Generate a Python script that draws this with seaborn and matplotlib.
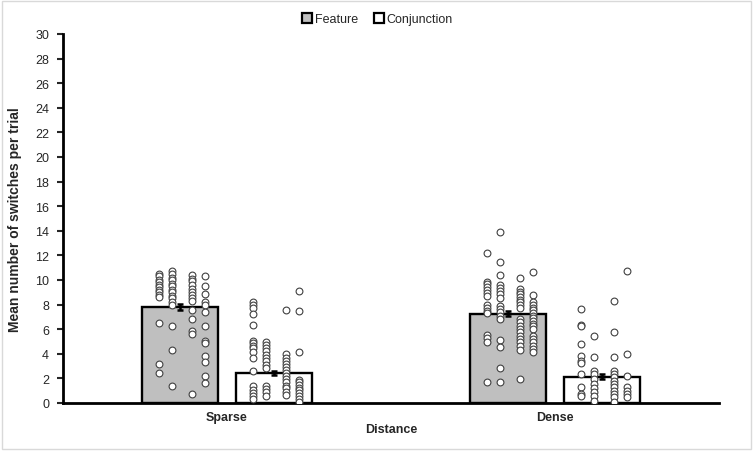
import numpy as np
import pandas as pd
import matplotlib
matplotlib.use("Agg")
import matplotlib.pyplot as plt
import seaborn as sns
from matplotlib.patches import Rectangle
from matplotlib.lines import Line2D

#%% data
distances = ["Sparse", "Dense"]
conditions = ["Feature", "Conjunction"]

# bar means and standard errors
bar_means = {"Sparse": [7.83, 2.44], "Dense": [7.24, 2.15]}
bar_se = {"Sparse": [0.25, 0.2], "Dense": [0.2, 0.2]}

# individual observations, four columns per bar
sparse_feature = [
    [10.5, 10.3, 10.0, 9.8, 9.6, 9.4, 9.2, 9.0, 8.8, 8.6, 6.5, 3.2, 2.4],
    [10.7, 10.5, 10.2, 10.0, 9.7, 9.5, 9.2, 9.0, 8.7, 8.5, 8.2, 8.0, 6.3, 4.3, 1.35],
    [10.4, 10.1, 9.9, 9.6, 9.3, 9.0, 8.8, 8.5, 8.3, 7.6, 6.8, 5.85, 5.6, 0.7],
    [10.35, 9.55, 8.85, 8.2, 7.97, 7.37, 6.3, 5.07, 4.9, 3.8, 3.3, 2.2, 1.6],
]
sparse_conjunction = [
    [8.24, 8.0, 7.72, 7.24, 6.34, 5.07, 4.85, 4.66, 4.44, 4.12, 3.66, 2.63, 1.35, 1.08, 0.81, 0.6, 0.33],
    [4.99, 4.72, 4.44, 4.2, 3.93, 3.63, 3.39, 3.09, 2.82, 1.4, 1.14, 0.87, 0.6],
    [7.59, 3.96, 3.69, 3.41, 3.2, 2.93, 2.71, 2.44, 2.22, 1.95, 1.68, 1.4, 1.19, 0.92, 0.65],
    [9.13, 7.45, 4.12, 1.9, 1.68, 1.46, 1.25, 1.03, 0.81, 0.6, 0.33, 0.05],
]
dense_feature = [
    [12.2, 9.86, 9.65, 9.41, 9.19, 8.94, 8.72, 7.97, 7.75, 7.5, 7.29, 5.53, 5.26, 4.98, 1.71],
    [13.88, 11.49, 10.43, 9.59, 9.35, 9.08, 8.84, 8.56, 7.86, 7.64, 7.37, 7.1, 6.83, 5.15, 4.55, 2.87, 1.71],
    [10.19, 9.27, 9.05, 8.84, 8.62, 8.4, 8.19, 7.97, 7.75, 6.83, 6.56, 6.29, 6.02, 5.75, 5.47, 5.2, 4.93, 4.66, 4.28, 1.95],
    [10.65, 8.78, 8.19, 7.97, 7.75, 7.54, 7.32, 7.1, 6.89, 6.67, 6.45, 6.24, 6.02, 5.47, 5.2, 4.93, 4.66, 4.39, 4.12],
]
dense_conjunction = [
    [7.64, 6.34, 6.29, 4.82, 3.8, 3.44, 3.25, 2.36, 1.33, 0.73, 0.54],
    [5.47, 3.77, 2.63, 2.36, 1.95, 1.54, 1.22, 0.87, 0.54, 0.19],
    [8.32, 5.8, 3.71, 2.63, 2.36, 2.09, 1.81, 1.54, 1.27, 1.0, 0.73, 0.46, 0.11],
    [10.71, 3.98, 2.22, 1.27, 1.0, 0.73, 0.46],
]
points = {
    ("Sparse", "Feature"): sparse_feature,
    ("Sparse", "Conjunction"): sparse_conjunction,
    ("Dense", "Feature"): dense_feature,
    ("Dense", "Conjunction"): dense_conjunction,
}

#%% tables
bars = pd.DataFrame([(d, c, bar_means[d][j], bar_se[d][j])
                     for d in distances for j, c in enumerate(conditions)],
                    columns=["Distance", "Condition", "mean", "se"])

sns.set_style("white")
plt.rcParams["font.family"] = ["Liberation Sans", "DejaVu Sans"]

fig = plt.figure(figsize=(7.54, 4.52), dpi=100)
ax = fig.add_axes([0.0836, 0.1062, 0.87, 0.8164])

palette = {"Feature": "#bfbfbf", "Conjunction": "white"}
sns.barplot(data=bars, x="Distance", y="mean", hue="Condition", order=distances,
            hue_order=conditions, palette=palette, width=0.57, gap=0.19,
            edgecolor="black", linewidth=1.7, errorbar=None, legend=False, ax=ax,
            zorder=2)

# bar centres from the drawn patches
centres = {}
for k, p in enumerate(ax.patches[:4]):
    d = distances[k % 2]
    c = conditions[k // 2]
    centres[(d, c)] = p.get_x() + p.get_width() / 2

col_offsets = [-0.064, -0.024, 0.037, 0.076]
rows = []
for (d, c), cols in points.items():
    for ci, vals in enumerate(cols):
        for v in vals:
            rows.append((centres[(d, c)] + col_offsets[ci], v))
pts = pd.DataFrame(rows, columns=["x", "y"])
sns.scatterplot(data=pts, x="x", y="y", s=24, color="white", edgecolor="#404040",
                linewidth=0.8, ax=ax, zorder=3)

for _, r in bars.iterrows():
    ax.errorbar(centres[(r["Distance"], r["Condition"])], r["mean"], yerr=r["se"],
                fmt="none", ecolor="black", elinewidth=1.8, capsize=2.5, capthick=1.8,
                zorder=4)

ax.set_xlim(-0.5, 1.5)
ax.set_ylim(0, 30)
ax.set_yticks(range(0, 31, 2))
ax.tick_params(axis="y", direction="out", length=4, width=1.5, labelsize=9,
               left=True, pad=6)
ax.tick_params(axis="x", length=0, labelsize=9, pad=6)
for lab in ax.get_xticklabels():
    lab.set_fontweight("bold")
ax.set_xlabel("Distance", fontsize=9, fontweight="bold", labelpad=0)
ax.set_ylabel("Mean number of switches per trial", fontsize=10, fontweight="bold")
ax.yaxis.set_label_coords(-0.062, 0.5)
sns.despine(ax=ax)
for s in ["left", "bottom"]:
    ax.spines[s].set_linewidth(2)
    ax.spines[s].set_color("black")

handles = [Line2D([], [], marker="s", linestyle="", markersize=6.5,
                  markerfacecolor=palette[c], markeredgecolor="black",
                  markeredgewidth=1.6) for c in conditions]
fig.legend(handles, conditions, loc="upper center", bbox_to_anchor=(0.5, 0.993),
           ncol=2, frameon=False, fontsize=9, handletextpad=0.1,
           columnspacing=1.2, handlelength=1.0)

fig.patches.append(Rectangle((0.003, 0.005), 0.993, 0.99, transform=fig.transFigure,
                             fill=False, edgecolor="#d9d9d9", linewidth=1))

fig.savefig("out.png", dpi=100)
